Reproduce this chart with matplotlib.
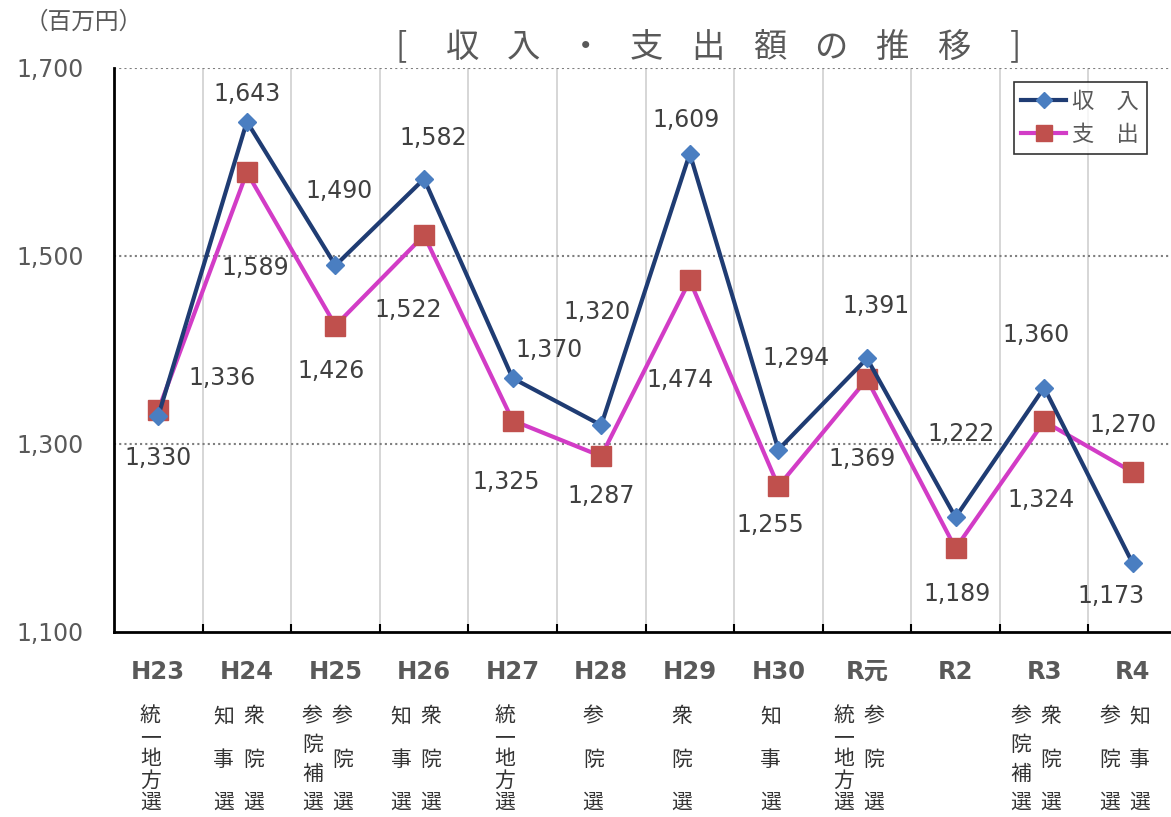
# Coding: utf-8
import numpy as np
import matplotlib
matplotlib.use("Agg")
import matplotlib.pyplot as plt
from matplotlib.lines import Line2D

plt.rcParams['font.family'] = ['DejaVu Sans', 'Noto Sans CJK JP']

# data
years = ['H23', 'H24', 'H25', 'H26', 'H27', 'H28', 'H29', 'H30', 'R元', 'R2', 'R3', 'R4']
income = [1330, 1643, 1490, 1582, 1370, 1320, 1609, 1294, 1391, 1222, 1360, 1173]
expense = [1336, 1589, 1426, 1522, 1325, 1287, 1474, 1255, 1369, 1189, 1324, 1270]
# elections held each year: (left column, right column)
elections = [('統一地方選', ''), ('知事選', '衆院選'), ('参院補選', '参院選'),
             ('知事選', '衆院選'), ('統一地方選', ''), ('参院選', ''),
             ('衆院選', ''), ('知事選', ''), ('統一地方選', '参院選'),
             ('', ''), ('参院補選', '衆院選'), ('参院選', '知事選')]
title_chars = ['[', '収', '入', '・', '支', '出', '額', 'の', '推', '移', ']']

# label offsets in pixels (dx, dy)
inc_off = [(0, -42), (0, 28), (4, 74), (9, 41), (36, 28), (-4, 113),
           (-4, 34), (18, 92), (9, 52), (6, 83), (-8, 53), (-22, -33)]
exp_off = [(64, 32), (8, -96), (-4, -45), (-16, -75), (-6, -62), (0, -40),
           (-10, -100), (-8, -39), (-5, -80), (2, -46), (-3, -79), (-10, 47)]

GRAY = '#595959'
fig = plt.figure(figsize=(11.71, 8.17), dpi=100)
ax = fig.add_axes([114 / 1171, 1 - 632 / 817, 1063 / 1171, 564 / 817])
x = np.arange(len(years))

ax.plot(x, income, '-', color='#1F3C73', lw=3, marker='D', ms=9,
        mfc='#4A7EC1', mec='#4A7EC1', zorder=4)
ax.plot(x, expense, '-', color='#D23CC6', lw=3, marker='s', ms=14,
        mfc='#C0504D', mec='#C0504D', zorder=3)

for i in range(len(years)):
    ax.annotate(f'{income[i]:,}', (x[i], income[i]), xytext=inc_off[i],
                textcoords='offset pixels', ha='center', va='center',
                fontsize=17, color='#404040', zorder=5)
    ax.annotate(f'{expense[i]:,}', (x[i], expense[i]), xytext=exp_off[i],
                textcoords='offset pixels', ha='center', va='center',
                fontsize=17, color='#404040', zorder=5)

ax.set_xlim(-0.5, len(years) - 0.5)
ax.set_ylim(1100, 1700)
ax.set_yticks([1100, 1300, 1500, 1700])
ax.set_yticklabels([f'{v:,}' for v in [1100, 1300, 1500, 1700]])
ax.set_xticks(x)
ax.set_xticklabels(years, fontweight='bold')
ax.set_xticks(x[:-1] + 0.5, minor=True)
ax.tick_params(axis='x', which='major', length=0, pad=20, labelsize=17.5, labelcolor=GRAY)
ax.tick_params(axis='x', which='minor', direction='in', length=6, width=1.5)
ax.tick_params(axis='y', length=0, pad=22, labelsize=17, labelcolor=GRAY)

# grid
for v in [1300, 1500, 1700]:
    ax.axhline(v, color='#7F7F7F', lw=1.5, ls=(0, (1, 1.5)), zorder=1)
for b in x[:-1] + 0.5:
    ax.axvline(b, color='#D0D0D0', lw=1.2, zorder=0)

for s in ['top', 'right']:
    ax.spines[s].set_visible(False)
ax.spines['left'].set_linewidth(2)
ax.spines['bottom'].set_linewidth(2)

# election names, written vertically
trans = ax.get_xaxis_transform()
y_top, y_bot = (632 - 716) / 564, (632 - 803) / 564
w = 1 / 88.6
for i, (left, right) in enumerate(elections):
    cols = [(left, -8)] if not right else [(left, -23), (right, 7)]
    for text, dx in cols:
        if not text:
            continue
        ys = np.linspace(y_top, y_bot, len(text))
        for ch, yy in zip(text, ys):
            ax.text(i + dx * w, yy, ch, transform=trans, ha='center', va='center',
                    fontsize=15, color='#333333', family='Noto Sans CJK JP')

fig.text(84 / 1171, 1 - 22 / 817, '（百万円）', ha='center', va='center',
         fontsize=17, color=GRAY, family='Noto Sans CJK JP')
for k, ch in enumerate(title_chars):
    fig.text((401 + k * 61.4) / 1171, 1 - 47 / 817, ch, ha='center', va='center',
             fontsize=24, color=GRAY, family='Noto Sans CJK JP')

handles = [Line2D([], [], color='#1F3C73', lw=3, marker='D', ms=8,
                  mfc='#4A7EC1', mec='#4A7EC1'),
           Line2D([], [], color='#D23CC6', lw=3, marker='s', ms=12,
                  mfc='#C0504D', mec='#C0504D')]
leg = ax.legend(handles, ['収　入', '支　出'], loc='upper right',
                bbox_to_anchor=(1147 / 1171, 1 - 82 / 817), bbox_transform=fig.transFigure,
                borderaxespad=0, prop={'family': 'Noto Sans CJK JP', 'size': 16},
                frameon=True, fancybox=False, handlelength=2.0, handletextpad=0.3,
                borderpad=0.35, labelspacing=0.45)
leg.get_frame().set_edgecolor('black')
leg.get_frame().set_linewidth(1.2)
for t in leg.get_texts():
    t.set_color(GRAY)

fig.savefig('out.png', dpi=100)
